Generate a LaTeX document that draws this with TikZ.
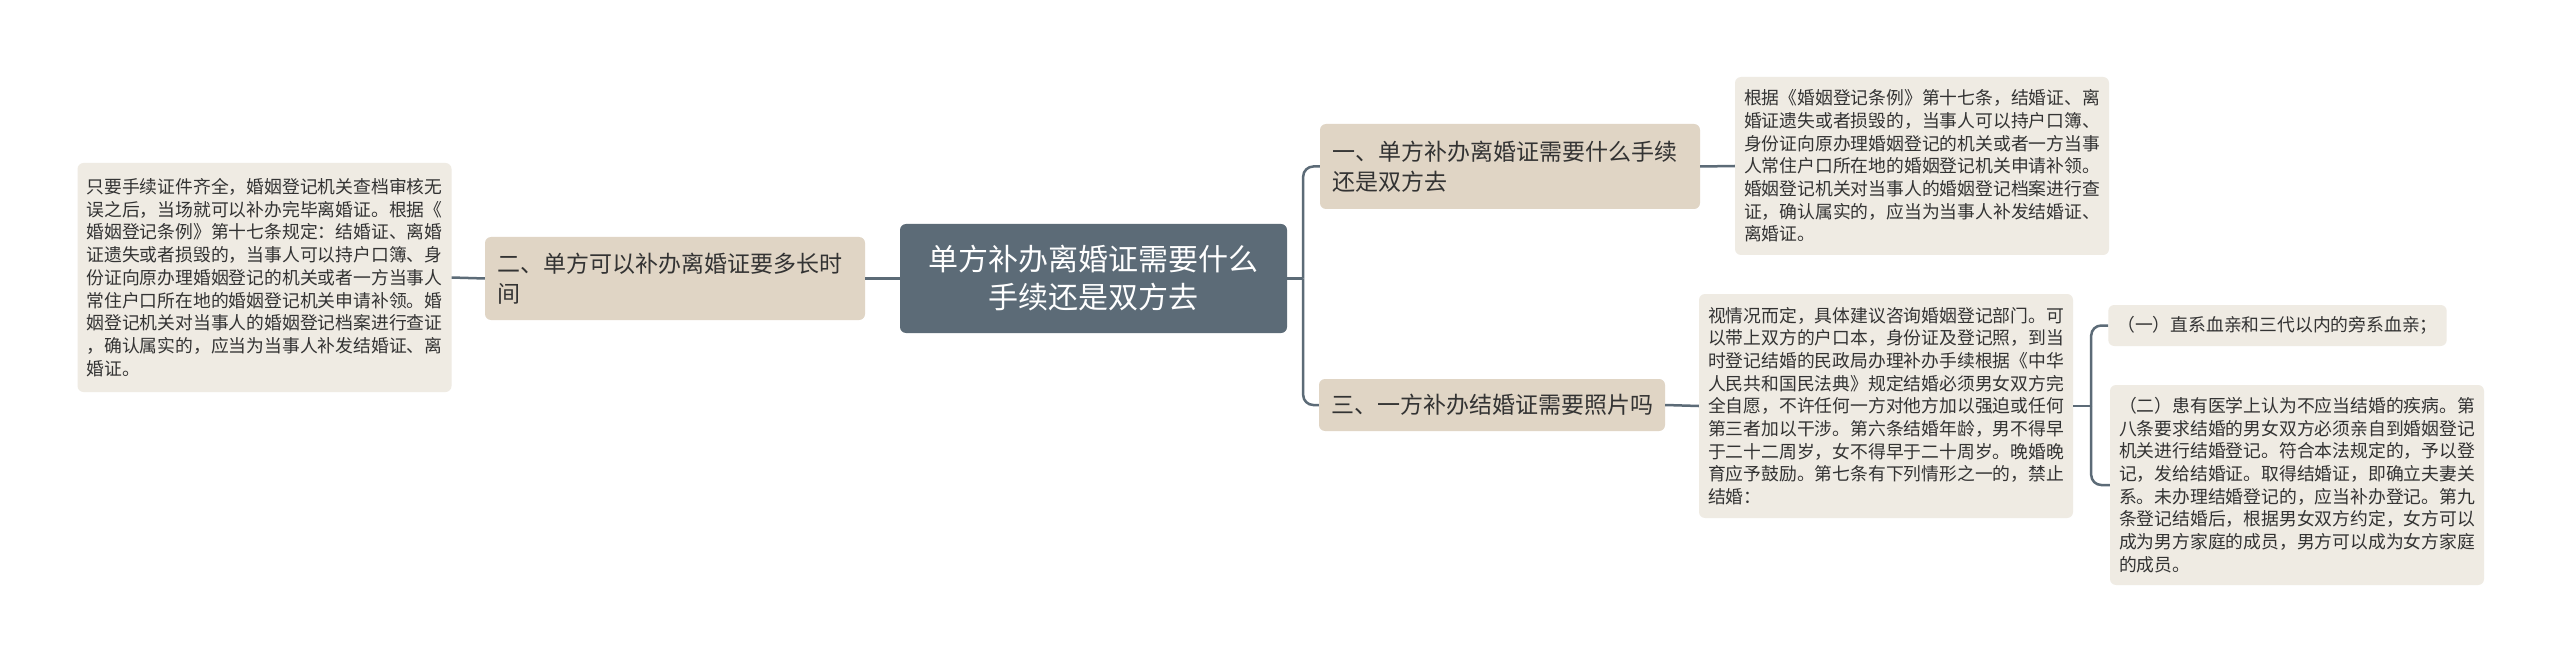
\documentclass[tikz,border=0pt]{standalone}
\usepackage{fontspec}
\setmainfont{Noto Sans CJK SC}
\definecolor{slate}{HTML}{5C6B77}
\definecolor{sand}{HTML}{E0D5C5}
\definecolor{paper}{HTML}{EFEBE3}
\definecolor{ink}{HTML}{333333}
\begin{document}
\begin{tikzpicture}[x=1pt,y=-1pt,
            link/.style={draw=slate,line width=2.5pt},
            main/.style={fill=slate,rounded corners=6pt,text=white,align=center,font=\fontsize{30}{38}\selectfont,text width=351pt,inner xsep=18pt},
            topic/.style={fill=sand,rounded corners=6pt,text=ink,align=left,font=\fontsize{23}{30}\selectfont,inner xsep=12pt},
            leaf/.style={fill=paper,rounded corners=6pt,text=ink,align=left,font=\fontsize{17.8}{22.7}\selectfont,inner xsep=9pt}
        ]
            \fill[white] (0,0) rectangle (2560,663);
            \useasboundingbox (0,0) rectangle (2560,663);

            \node[main,minimum height=109pt] (m) at (1093.5,278.5) {单方补办离婚证需要什么\\手续还是双方去};

            \node[topic,text width=356pt,minimum height=83pt] (l) at (675,278.5) {二、单方可以补办离婚证要多长时\\间};
            \node[leaf,text width=356pt,minimum height=229pt] (la) at (264.5,277.5) {只要手续证件齐全，婚姻登记机关查档审核无\\误之后，当场就可以补办完毕离婚证。根据《\\婚姻登记条例》第十七条规定：结婚证、离婚\\证遗失或者损毁的，当事人可以持户口簿、身\\份证向原办理婚姻登记的机关或者一方当事人\\常住户口所在地的婚姻登记机关申请补领。婚\\姻登记机关对当事人的婚姻登记档案进行查证\\，确认属实的，应当为当事人补发结婚证、离\\婚证。};

            \node[topic,text width=356pt,minimum height=85pt] (r1) at (1510,166.5) {一、单方补办离婚证需要什么手续\\还是双方去};
            \node[leaf,text width=356pt,minimum height=178pt] (r1a) at (1922,166) {根据《婚姻登记条例》第十七条，结婚证、离\\婚证遗失或者损毁的，当事人可以持户口簿、\\身份证向原办理婚姻登记的机关或者一方当事\\人常住户口所在地的婚姻登记机关申请补领。\\婚姻登记机关对当事人的婚姻登记档案进行查\\证，确认属实的，应当为当事人补发结婚证、\\离婚证。};

            \node[topic,minimum height=52pt] (r2) at (1492,405) {三、一方补办结婚证需要照片吗};
            \node[leaf,text width=356pt,minimum height=224pt] (r2a) at (1886,406) {视情况而定，具体建议咨询婚姻登记部门。可\\以带上双方的户口本，身份证及登记照，到当\\时登记结婚的民政局办理补办手续根据《中华\\人民共和国民法典》规定结婚必须男女双方完\\全自愿，不许任何一方对他方加以强迫或任何\\第三者加以干涉。第六条结婚年龄，男不得早\\于二十二周岁，女不得早于二十周岁。晚婚晚\\育应予鼓励。第七条有下列情形之一的，禁止\\结婚：};
            \node[leaf,minimum height=41pt] (r2b) at (2277.5,325.5) {（一）直系血亲和三代以内的旁系血亲；};
            \node[leaf,text width=356pt,minimum height=200pt] (r2c) at (2297,485) {（二）患有医学上认为不应当结婚的疾病。第\\八条要求结婚的男女双方必须亲自到婚姻登记\\机关进行结婚登记。符合本法规定的，予以登\\记，发给结婚证。取得结婚证，即确立夫妻关\\系。未办理结婚登记的，应当补办登记。第九\\条登记结婚后，根据男女双方约定，女方可以\\成为男方家庭的成员，男方可以成为女方家庭\\的成员。};

            \path (m.east) ++(16,0) coordinate (j);
            \path (r2a.east) ++(18,0) coordinate (k);

            \draw[link] (m.west) -- (l.west -| l.east);
            \draw[link] (l.west) -- (la.east);
            \draw[link] (m.east) -- (j);
            \draw[link,rounded corners=10pt] (j) |- (r1.west);
            \draw[link,rounded corners=10pt] (j) |- (r2.west);
            \draw[link] (r1.east) -- (r1a.west);
            \draw[link] (r2.east) -- (r2a.west);
            \draw[link] (r2a.east) -- (k);
            \draw[link,rounded corners=10pt] (k) |- (r2b.west);
            \draw[link,rounded corners=10pt] (k) |- (r2c.west);
        \end{tikzpicture}
\end{document}
